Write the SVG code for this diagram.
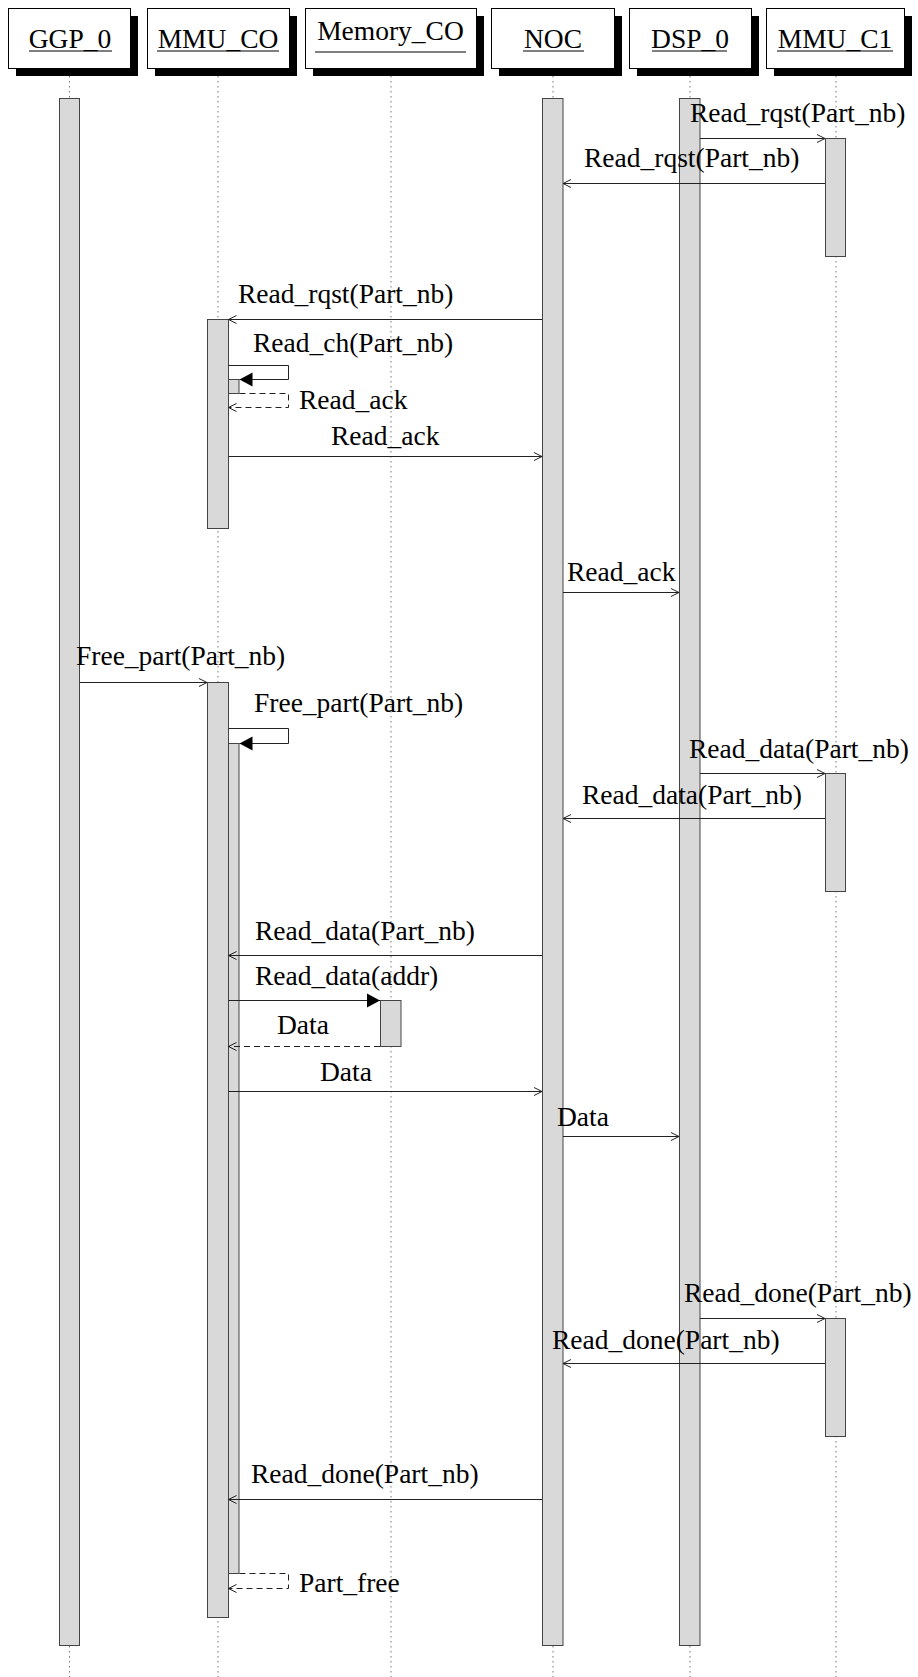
<svg xmlns="http://www.w3.org/2000/svg" width="918" height="1677" viewBox="0 0 918 1677">
<style>
.hd{fill:#fff;stroke:#000;stroke-width:1}
.sh{fill:#000}
.ht{font-family:"Liberation Serif","Times New Roman",serif;font-size:27.5px;fill:#000;text-anchor:middle}
.ul{stroke:#000;stroke-width:1}
.ll{stroke:#777;stroke-width:1;stroke-dasharray:1.5,3.5;fill:none}
.bar{fill:#d9d9d9;stroke:#444;stroke-width:1}
.m{fill:none;stroke:#222;stroke-width:1}
.d{stroke-dasharray:6,4}
.lb{font-family:"Liberation Serif","Times New Roman",serif;font-size:27.5px;fill:#000}
</style>
<defs>
<marker id="open" markerUnits="userSpaceOnUse" markerWidth="12" markerHeight="12" viewBox="-10 -6 12 12" refX="0" refY="0" orient="auto"><path d="M-8,-4 L0,0 L-8,4" fill="none" stroke="#222" stroke-width="1"/></marker>
<marker id="fill" markerUnits="userSpaceOnUse" markerWidth="16" markerHeight="16" viewBox="-14 -8 16 16" refX="0" refY="0" orient="auto"><path d="M-13,-7 L0,0 L-13,7 Z" fill="#000"/></marker>
</defs>
<rect width="918" height="1677" fill="#fff"/>

<g id="GGP_0">
<line class="ll" x1="69.5" y1="76" x2="69.5" y2="1677"/>
<rect class="sh" x="16" y="16" width="122" height="60"/>
<rect class="hd" x="8.5" y="8.5" width="122" height="60"/>
<text class="ht" x="70" y="48">GGP_0</text>
<line class="ul" x1="29" y1="51" x2="112" y2="51"/>
<rect class="bar" x="59.5" y="98.5" width="20" height="1547"/>
</g>

<g id="MMU_CO">
<line class="ll" x1="218" y1="76" x2="218" y2="1677"/>
<rect class="sh" x="155" y="16" width="142" height="60"/>
<rect class="hd" x="147.5" y="8.5" width="142" height="60"/>
<text class="ht" x="218" y="48">MMU_CO</text>
<line class="ul" x1="157" y1="51" x2="279" y2="51"/>
<rect class="bar" x="207.5" y="319.5" width="21" height="209"/>
<rect class="bar" x="228.5" y="379.5" width="10.5" height="14"/>
<rect class="bar" x="207.5" y="682.5" width="21" height="935"/>
<rect class="bar" x="228.5" y="743.5" width="10.5" height="830"/>
</g>

<g id="Memory_CO">
<line class="ll" x1="391" y1="76" x2="391" y2="1677"/>
<rect class="sh" x="313" y="16" width="171" height="60"/>
<rect class="hd" x="305.5" y="8.5" width="171" height="60"/>
<text class="ht" x="390.5" y="40">Memory_CO</text>
<line class="ul" x1="315" y1="52" x2="466" y2="52"/>
<rect class="bar" x="380.5" y="1000.5" width="20.5" height="46"/>
</g>

<g id="NOC">
<line class="ll" x1="553" y1="76" x2="553" y2="1677"/>
<rect class="sh" x="499" y="16" width="123" height="60"/>
<rect class="hd" x="491.5" y="8.5" width="123" height="60"/>
<text class="ht" x="553" y="48">NOC</text>
<line class="ul" x1="523" y1="51" x2="584" y2="51"/>
<rect class="bar" x="542.5" y="98.5" width="20.5" height="1547"/>
</g>

<g id="DSP_0">
<line class="ll" x1="690" y1="76" x2="690" y2="1677"/>
<rect class="sh" x="637" y="16" width="122" height="60"/>
<rect class="hd" x="629.5" y="8.5" width="122" height="60"/>
<text class="ht" x="690" y="48">DSP_0</text>
<line class="ul" x1="652" y1="51" x2="727" y2="51"/>
<rect class="bar" x="679.5" y="98.5" width="20.5" height="1547"/>
</g>

<g id="MMU_C1">
<line class="ll" x1="836" y1="76" x2="836" y2="1677"/>
<rect class="sh" x="774" y="16" width="138" height="60"/>
<rect class="hd" x="766.5" y="8.5" width="138" height="60"/>
<text class="ht" x="835" y="48">MMU_C1</text>
<line class="ul" x1="777" y1="51" x2="893" y2="51"/>
<rect class="bar" x="825.5" y="138.5" width="20" height="118"/>
<rect class="bar" x="825.5" y="773.5" width="20" height="118"/>
<rect class="bar" x="825.5" y="1318.5" width="20" height="118"/>
</g>

<g id="connectors">
<path class="m" d="M700,138.5 H825" marker-end="url(#open)"/>
<text class="lb" x="690" y="122">Read_rqst(Part_nb)</text>
<path class="m" d="M825,183.5 H563" marker-end="url(#open)"/>
<text class="lb" x="584" y="167">Read_rqst(Part_nb)</text>
<path class="m" d="M542,319.5 H228.5" marker-end="url(#open)"/>
<text class="lb" x="238" y="303">Read_rqst(Part_nb)</text>
<path class="m" d="M228.5,365.5 H288.5 V379.5 H239.5" marker-end="url(#fill)"/>
<text class="lb" x="253" y="352">Read_ch(Part_nb)</text>
<path class="m d" d="M239.5,393.5 H288.5 V407.5 H228.5" marker-end="url(#open)"/>
<text class="lb" x="299" y="409">Read_ack</text>
<path class="m" d="M228.5,456.5 H542" marker-end="url(#open)"/>
<text class="lb" x="331" y="445">Read_ack</text>
<path class="m" d="M563,592.5 H679" marker-end="url(#open)"/>
<text class="lb" x="567" y="581">Read_ack</text>
<path class="m" d="M80,682.5 H207" marker-end="url(#open)"/>
<text class="lb" x="76" y="665">Free_part(Part_nb)</text>
<path class="m" d="M228.5,728.5 H288.5 V743.5 H239.5" marker-end="url(#fill)"/>
<text class="lb" x="254" y="712">Free_part(Part_nb)</text>
<path class="m" d="M700,773.5 H825" marker-end="url(#open)"/>
<text class="lb" x="689" y="758">Read_data(Part_nb)</text>
<path class="m" d="M825,818.5 H563" marker-end="url(#open)"/>
<text class="lb" x="582" y="804">Read_data(Part_nb)</text>
<path class="m" d="M542,955.5 H228.5" marker-end="url(#open)"/>
<text class="lb" x="255" y="940">Read_data(Part_nb)</text>
<path class="m" d="M228.5,1000.5 H380" marker-end="url(#fill)"/>
<text class="lb" x="255" y="985">Read_data(addr)</text>
<path class="m d" d="M380,1046.5 H228.5" marker-end="url(#open)"/>
<text class="lb" x="277" y="1034">Data</text>
<path class="m" d="M228.5,1091.5 H542" marker-end="url(#open)"/>
<text class="lb" x="320" y="1081">Data</text>
<path class="m" d="M563,1136.5 H679" marker-end="url(#open)"/>
<text class="lb" x="557" y="1126">Data</text>
<path class="m" d="M700,1318.5 H825" marker-end="url(#open)"/>
<text class="lb" x="684" y="1302">Read_done(Part_nb)</text>
<path class="m" d="M825,1363.5 H563" marker-end="url(#open)"/>
<text class="lb" x="552" y="1349">Read_done(Part_nb)</text>
<path class="m" d="M542,1499.5 H228.5" marker-end="url(#open)"/>
<text class="lb" x="251" y="1483">Read_done(Part_nb)</text>
<path class="m d" d="M239.5,1573.5 H288.5 V1588.5 H228.5" marker-end="url(#open)"/>
<text class="lb" x="299" y="1592">Part_free</text>
</g>
</svg>
